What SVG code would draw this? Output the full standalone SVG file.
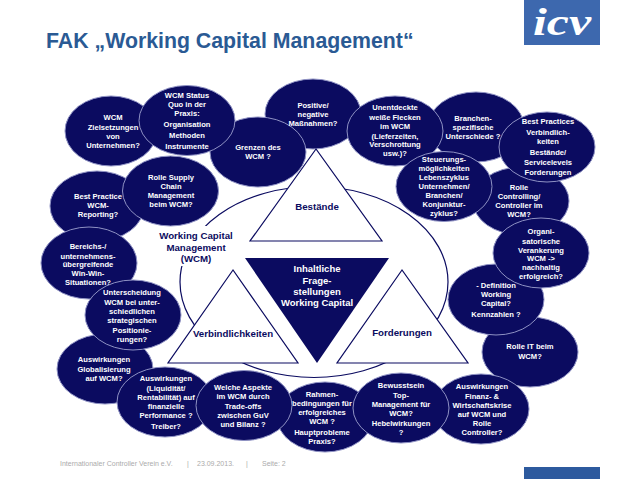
<svg xmlns="http://www.w3.org/2000/svg" width="638" height="479" viewBox="0 0 638 479">
<style>
text{font-family:"Liberation Sans",Arial,sans-serif}
.e{fill:#0b0b60;stroke:#8f92c4;stroke-width:1}
.n text{fill:#fff;font-size:7.600px;font-weight:bold;text-anchor:middle}
.t{fill:#fff;stroke:#0b0b60;stroke-width:1.200}
.l{fill:#0b0b60;font-weight:bold;text-anchor:middle;font-size:9.700px}
.f{fill:#ababab;font-size:7px}
</style>
<rect width="638" height="479" fill="#fff"/>
<text x="46" y="48" font-size="21.300" font-weight="bold" fill="#2a5a94">FAK „Working Capital Management“</text>
<g id="logo"><rect x="524" y="0" width="76" height="45" fill="#3d68ae"/><text x="533" y="35" font-size="38" font-style="italic" font-weight="bold" fill="#fff" textLength="58" lengthAdjust="spacingAndGlyphs" style="font-family:'Liberation Serif',serif">icv</text></g>
<g id="connectors"><ellipse cx="314" cy="282" rx="134" ry="95.500" fill="#fff" stroke="#0b0b60" stroke-width="1.200"/><rect x="150" y="226" width="92" height="40" fill="#fff"/></g>
<g class="n">
<g id="n-ziel"><ellipse class="e" cx="111" cy="131" rx="46" ry="35"/><text x="113" y="120">WCM</text><text x="113" y="130">Zielsetzungen</text><text x="113" y="139">von</text><text x="113" y="148">Unternehmen?</text></g>
<g id="n-grenzen"><ellipse class="e" cx="313" cy="114" rx="48" ry="35"/><ellipse class="e" cx="258" cy="152" rx="48" ry="35"/><text x="258" y="150">Grenzen des</text><text x="258" y="159">WCM ?</text></g>
<g id="n-status"><ellipse class="e" cx="187" cy="120.500" rx="48" ry="35"/><text x="187" y="98">WCM Status</text><text x="187" y="107">Quo in der</text><text x="187" y="116">Praxis:</text><text x="187" y="127">Organisation</text><text x="187" y="138">Methoden</text><text x="187" y="149">Instrumente</text></g>
<g id="n-positiv"><text x="313" y="108">Positive/</text><text x="313" y="117">negative</text><text x="313" y="126">Maßnahmen?</text></g>
<g id="n-branchen"><ellipse class="e" cx="476" cy="127" rx="48" ry="35"/><text x="473" y="121">Branchen-</text><text x="473" y="130">spezifische</text><text x="473" y="139">Unterschiede ?</text></g>
<g id="n-unent"><ellipse class="e" cx="395" cy="131" rx="48" ry="35"/><text x="395" y="110">Unentdeckte</text><text x="395" y="120">weiße Flecken</text><text x="395" y="128.500">im WCM</text><text x="395" y="138.500">(Lieferzeiten,</text><text x="395" y="147">Verschrottung</text><text x="395" y="156">usw.)?</text></g>
<g id="n-rolle"><ellipse class="e" cx="521" cy="201" rx="48" ry="34"/><text x="519" y="190">Rolle</text><text x="519" y="199">Controlling/</text><text x="519" y="208">Controller im</text><text x="519" y="217">WCM?</text></g>
<g id="n-steuer"><ellipse class="e" cx="444" cy="186.500" rx="48" ry="35"/><text x="444" y="162">Steuerungs-</text><text x="444" y="171">möglichkeiten</text><text x="444" y="180">Lebenszyklus</text><text x="444" y="189">Unternehmen/</text><text x="444" y="198">Branchen/</text><text x="444" y="207">Konjunktur-</text><text x="444" y="216">zyklus?</text></g>
<g id="n-bestp"><ellipse class="e" cx="547" cy="147" rx="48" ry="35"/><text x="548" y="124">Best Practices</text><text x="548" y="135">Verbindlich-</text><text x="548" y="144">keiten</text><text x="548" y="155">Bestände/</text><text x="548" y="165">Servicelevels</text><text x="548" y="175">Forderungen</text></g>
<g id="n-bestw"><ellipse class="e" cx="97" cy="206" rx="47" ry="35"/><text x="98" y="199">Best Practice</text><text x="98" y="208">WCM-</text><text x="98" y="217">Reporting?</text></g>
<g id="n-supply"><ellipse class="e" cx="170.500" cy="191" rx="48" ry="35"/><text x="171" y="180">Rolle Supply</text><text x="171" y="189">Chain</text><text x="171" y="198">Management</text><text x="171" y="207">beim WCM?</text></g>
<g id="n-bereich"><ellipse class="e" cx="89" cy="263" rx="48" ry="36"/><text x="88" y="249">Bereichs-/</text><text x="88" y="258.500">unternehmens-</text><text x="88" y="267">übergreifende</text><text x="88" y="276">Win-Win-</text><text x="88" y="285">Situationen?</text></g>
<g id="n-global"><ellipse class="e" cx="105" cy="369" rx="48" ry="35"/><text x="104" y="362">Auswirkungen</text><text x="104" y="372">Globalisierung</text><text x="104" y="380.500">auf WCM?</text></g>
<g id="n-unter"><ellipse class="e" cx="133" cy="315" rx="48" ry="35"/><text x="132" y="295">Unterscheidung</text><text x="132" y="304.500">WCM bei unter-</text><text x="132" y="313.500">schiedlichen</text><text x="132" y="323">strategischen</text><text x="132" y="332.500">Positionie-</text><text x="132" y="341.500">rungen?</text></g>
<g id="n-liqui"><ellipse class="e" cx="165" cy="402" rx="48" ry="35"/><text x="166" y="381">Auswirkungen</text><text x="166" y="391">(Liquidität/</text><text x="166" y="399.500">Rentabilität) auf</text><text x="166" y="409">finanzielle</text><text x="166" y="418">Performance ?</text><text x="166" y="429">Treiber?</text></g>
<g id="n-rahmen"><ellipse class="e" cx="325" cy="417" rx="48" ry="35"/><text x="322" y="397">Rahmen-</text><text x="322" y="405.500">bedingungen für</text><text x="322" y="414.500">erfolgreiches</text><text x="322" y="423.500">WCM ?</text><text x="322" y="434.500">Hauptprobleme</text><text x="322" y="443.500">Praxis?</text></g>
<g id="n-welche"><ellipse class="e" cx="244" cy="405.500" rx="48" ry="35"/><text x="243" y="390">Welche Aspekte</text><text x="243" y="399">im WCM durch</text><text x="243" y="409">Trade-offs</text><text x="243" y="418">zwischen GuV</text><text x="243" y="427">und Bilanz ?</text></g>
<g id="n-it"><ellipse class="e" cx="530" cy="352" rx="48" ry="35"/><text x="530" y="349">Rolle IT beim</text><text x="530" y="359">WCM?</text></g>
<g id="n-def"><ellipse class="e" cx="496" cy="299.500" rx="48" ry="35.500"/><text x="496" y="288">- Definition</text><text x="496" y="297">Working</text><text x="496" y="306">Capital?</text><text x="496" y="317">Kennzahlen ?</text></g>
<g id="n-organi"><ellipse class="e" cx="541" cy="253" rx="48" ry="35"/><text x="541" y="234">Organi-</text><text x="541" y="243.500">satorische</text><text x="541" y="252.500">Verankerung</text><text x="541" y="261">WCM -&gt;</text><text x="541" y="270">nachhaltig</text><text x="541" y="279">erfolgreich?</text></g>
<g id="n-finanz"><ellipse class="e" cx="481" cy="409" rx="48" ry="35"/><text x="482" y="389">Auswirkungen</text><text x="482" y="399">Finanz- &amp;</text><text x="482" y="407.500">Wirtschaftskrise</text><text x="482" y="417">auf WCM und</text><text x="482" y="426">Rolle</text><text x="482" y="435">Controller?</text></g>
<g id="n-bewusst"><ellipse class="e" cx="401" cy="408" rx="48" ry="35"/><text x="401" y="388">Bewusstsein</text><text x="401" y="398">Top-</text><text x="401" y="406.500">Management für</text><text x="401" y="415.500">WCM?</text><text x="401" y="426">Hebelwirkungen</text><text x="401" y="435">?</text></g>
</g>
<g id="n-bestaende"><polygon class="t" points="316,149 250,241 382,241"/><text class="l" x="317" y="210">Bestände</text></g>
<g id="n-verb"><polygon class="t" points="233,270 168,363 298,363"/><text class="l" x="233" y="337">Verbindlichkeiten</text></g>
<g id="n-ford"><polygon class="t" points="402,270 337,363 468,363"/><text class="l" x="402" y="336">Forderungen</text></g>
<g id="n-center"><polygon points="245,258 389,258 317,363" fill="#0b0b60"/><g fill="#fff" font-size="9.500" font-weight="bold" text-anchor="middle"><text x="317" y="272">Inhaltliche</text><text x="317" y="284">Frage-</text><text x="317" y="295">stellungen</text><text x="317" y="306">Working Capital</text></g></g>
<g id="n-wcm"><text class="l" x="196" y="239">Working Capital</text><text class="l" x="196" y="251">Management</text><text class="l" x="196" y="262">(WCM)</text></g>
<g id="footer"><text class="f" x="60" y="466">Internationaler Controller Verein e.V.</text><text class="f" x="187" y="466">|</text><text class="f" x="197" y="466">23.09.2013.</text><text class="f" x="246" y="466">|</text><text class="f" x="262" y="466">Seite: 2</text><rect x="524" y="467" width="76" height="12" fill="#2d5a9e"/></g>
</svg>
